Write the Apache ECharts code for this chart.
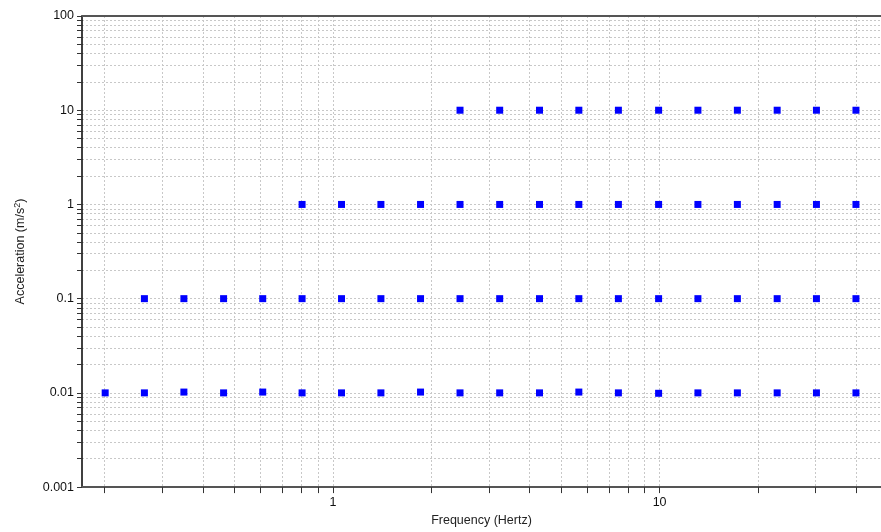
<!DOCTYPE html>
<html>
<head>
<meta charset="utf-8">
<script src="https://cdn.jsdelivr.net/npm/echarts@6/dist/echarts.min.js"></script>
<style>html,body{margin:0;padding:0;background:#fff}#c{width:881px;height:532px}</style>
</head>
<body>
<div id="c"></div>
<script>
// Frequency points (Hz)
var freqs = [0.201, 0.265, 0.35, 0.463, 0.61, 0.805, 1.063, 1.403, 1.855, 2.45, 3.24, 4.29, 5.66, 7.48, 9.93, 13.1, 17.3, 22.9, 30.2, 39.9];
// Acceleration rows (m/s^2); null = no point
var rowA = [0.01, 0.01, 0.0102, 0.01, 0.0102, 0.01, 0.01, 0.01, 0.0102, 0.01, 0.01, 0.01, 0.0102, 0.01, 0.0099, 0.01, 0.01, 0.01, 0.01, 0.01];
var rowB = [null, 0.1, 0.1, 0.1, 0.1, 0.1, 0.1, 0.1, 0.1, 0.1, 0.1, 0.1, 0.1, 0.1, 0.1, 0.1, 0.1, 0.1, 0.1, 0.1];
var rowC = [null, null, null, null, null, 1, 1, 1, 1, 1, 1, 1, 1, 1, 1, 1, 1, 1, 1, 1];
var rowD = [null, null, null, null, null, null, null, null, null, 10, 10, 10, 10, 10, 10, 10, 10, 10, 10, 10];

// Tick positions
var xTicks = [0.2, 0.3, 0.4, 0.5, 0.6, 0.7, 0.8, 0.9, 1, 2, 3, 4, 5, 6, 7, 8, 9, 10, 20, 30, 40];
var xLabels = [1, 10];
var yTicks = [0.001, 0.002, 0.003, 0.004, 0.005, 0.006, 0.007, 0.008, 0.009,
              0.01, 0.02, 0.03, 0.04, 0.05, 0.06, 0.07, 0.08, 0.09,
              0.1, 0.2, 0.3, 0.4, 0.5, 0.6, 0.7, 0.8, 0.9,
              1, 2, 3, 4, 5, 6, 7, 8, 9,
              10, 20, 30, 40, 50, 60, 70, 80, 90, 100];
var yLabels = [0.001, 0.01, 0.1, 1, 10, 100];
var yLabelText = ['0.001', '0.01', '0.1', '1', '10', '100'];

function pairs(row) {
  var out = [];
  for (var i = 0; i < freqs.length; i++) if (row[i] != null) out.push([freqs[i], row[i]]);
  return out;
}

var font = 'Liberation Sans, Arial, sans-serif';
var fs = 12.5;
var chart = echarts.init(document.getElementById('c'), null, {renderer: 'canvas'});
var scatterStyle = {type: 'scatter', symbol: 'rect', symbolSize: 7, itemStyle: {color: '#0000ff', opacity: 1}, xAxisIndex: 0, yAxisIndex: 0};

chart.setOption({
  animation: false,
  backgroundColor: '#fff',
  grid: {left: 82, right: 0, top: 16, bottom: 43, containLabel: false},
  xAxis: [{
    type: 'log', logBase: 10, min: 0.1707, max: 47.6, position: 'bottom',
    name: 'Frequency (Hertz)', nameLocation: 'middle', nameGap: 26,
    nameTextStyle: {fontFamily: font, fontSize: fs, color: '#222'},
    axisLine: {show: true, onZero: false, lineStyle: {color: '#555', width: 2}},
    axisTick: {show: true, inside: false, length: 6, customValues: xTicks, lineStyle: {color: '#333', width: 1}},
    axisLabel: {show: true, margin: 9, customValues: xLabels, fontFamily: font, fontSize: fs, color: '#111'},
    splitLine: {show: true, lineStyle: {color: '#c8c8c8', type: [2, 2], width: 1}},
    minorTick: {show: false}, minorSplitLine: {show: false}
  }, {
    type: 'log', logBase: 10, min: 0.1707, max: 47.6, position: 'top',
    axisLine: {show: true, onZero: false, lineStyle: {color: '#555', width: 2}},
    axisTick: {show: false}, axisLabel: {show: false}, splitLine: {show: false}
  }],
  yAxis: [{
    type: 'log', logBase: 10, min: 0.001, max: 100, position: 'left',
    name: 'Acceleration (m/s{sup|2})', nameLocation: 'middle', nameGap: 54, nameRotate: 90,
    nameTextStyle: {fontFamily: font, fontSize: fs, color: '#222',
      rich: {sup: {fontFamily: font, fontSize: 9, color: '#222', verticalAlign: 'top', padding: [0, 0, 6, 0]}}},
    axisLine: {show: true, onZero: false, lineStyle: {color: '#000', width: 1.5}},
    axisTick: {show: true, inside: false, length: 5, customValues: yTicks, lineStyle: {color: '#333', width: 1}},
    axisLabel: {show: true, margin: 8, customValues: yLabels, fontFamily: font, fontSize: fs, color: '#111',
      formatter: function (v) {
        for (var i = 0; i < yLabels.length; i++) if (Math.abs(Math.log10(v) - Math.log10(yLabels[i])) < 1e-6) return yLabelText[i];
        return '';
      }},
    splitLine: {show: true, lineStyle: {color: '#c8c8c8', type: [2, 2], width: 1}},
    minorTick: {show: false}, minorSplitLine: {show: false}
  }],
  series: [
    Object.assign({name: 'A', data: pairs(rowA)}, scatterStyle),
    Object.assign({name: 'B', data: pairs(rowB)}, scatterStyle),
    Object.assign({name: 'C', data: pairs(rowC)}, scatterStyle),
    Object.assign({name: 'D', data: pairs(rowD)}, scatterStyle)
  ]
});
</script>
</body>
</html>
